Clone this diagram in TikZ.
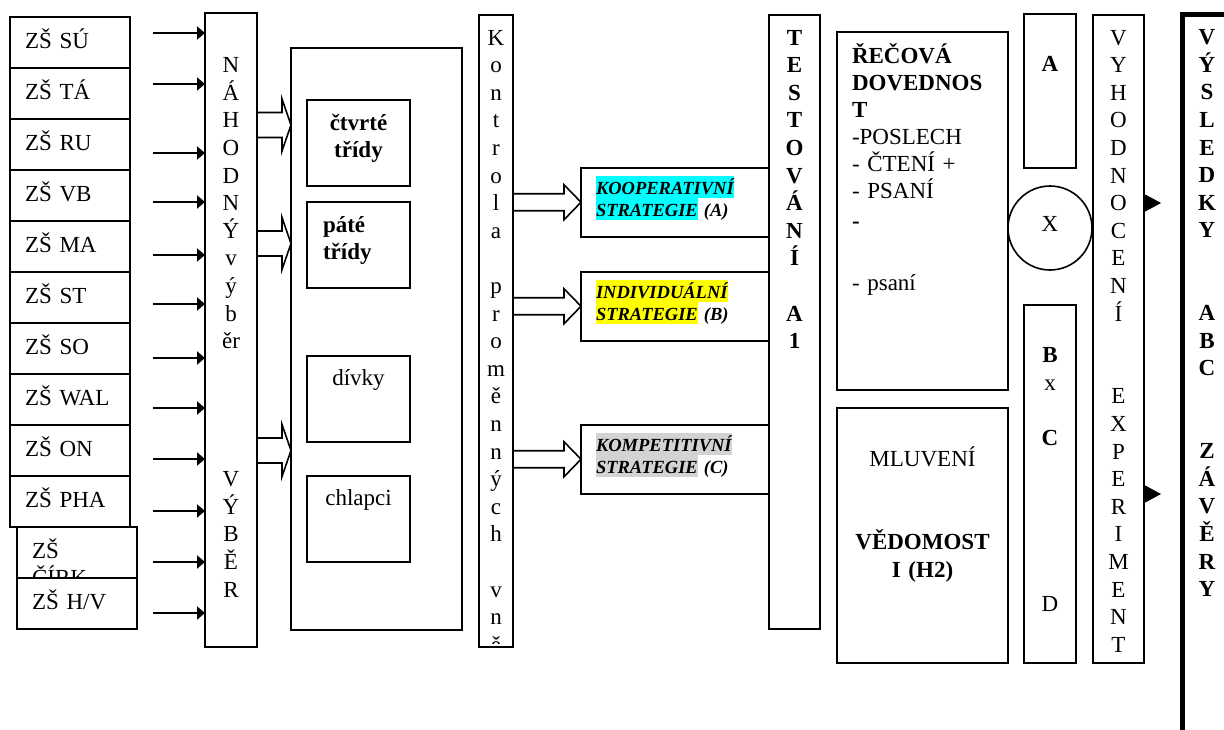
\documentclass[tikz,border=0pt]{standalone}
\usepackage{fontspec}
\setmainfont{Liberation Serif}
\usepackage{xcolor}
\usepackage{tikz}
\usetikzlibrary{positioning,arrows.meta,calc}
\definecolor{hlcyan}{HTML}{00FFFF}
\definecolor{hlyellow}{HTML}{FFFF00}
\definecolor{hlgray}{HTML}{D3D3D3}
\newcommand{\hlt}[2]{{\setlength{\fboxsep}{0pt}\colorbox{#1}{\rule[-3.8pt]{0pt}{22pt}#2}}}

\begin{document}
\begin{tikzpicture}[x=1pt,y=-1pt,
  font=\fontsize{23pt}{27.6pt}\selectfont,
  box/.style={draw,line width=2pt,fill=white,anchor=north west,inner xsep=15pt,inner ysep=0pt,outer sep=0pt,text height=31pt,align=left},
  col/.style={box,inner xsep=0pt,text height=30pt,align=center},
  school/.style={box,text width=90pt,text depth=20pt},
  frame/.style={draw,line width=2pt,anchor=north west,inner sep=0pt,outer sep=0pt},
  bf/.style={execute at begin node=\bfseries},
  strat/.style={box,text width=158pt,text height=26pt,text depth=42.5pt,font=\fontsize{18.5pt}{22pt}\selectfont\bfseries\itshape},
  arr/.style={-{Triangle[length=8pt,width=13pt]},line width=2.6pt},
  tri/.style={-{Triangle[length=16pt,width=17pt]},line width=1pt},
  fat/.style n args={3}{line width=1.6pt,to path={
    ($(\tikztostart)+(0,-#1)$) -- ($(\tikztostart -| \tikztotarget)+(-#3,-#1)$)
    -- ($(\tikztostart -| \tikztotarget)+(-#3,-#2)$) -- (\tikztostart -| \tikztotarget)
    -- ($(\tikztostart -| \tikztotarget)+(-#3,#2)$) -- ($(\tikztostart -| \tikztotarget)+(-#3,#1)$)
    -- ($(\tikztostart)+(0,#1)$)}}]
  \useasboundingbox (0,0) rectangle (1224,729);
  \clip (0,0) rectangle (1224,729);

  % schools
  \node[school] (su) at (10,17) {ZŠ SÚ};
  \node[school,below=0pt of su] (ta) {ZŠ TÁ};
  \node[school,below=0pt of ta] (ru) {ZŠ RU};
  \node[school,below=0pt of ru] (vb) {ZŠ VB};
  \node[school,below=0pt of vb] (ma) {ZŠ MA};
  \node[school,below=0pt of ma] (st) {ZŠ ST};
  \node[school,below=0pt of st] (so) {ZŠ SO};
  \node[school,below=0pt of so] (wal) {ZŠ WAL};
  \node[school,below=0pt of wal] (on) {ZŠ ON};
  \node[school,below=0pt of on] (pha) {ZŠ PHA};
  \node[school,below=0pt of pha,xshift=7pt] (cirk) {ZŠ\\ČÍRK};
  \node[school,below=0pt of cirk] (hv) {ZŠ H/V};

  \node[col,text width=52pt,text height=32pt,text depth=602pt] (nah) at (205,13)
    {\mbox{}\\N\\Á\\H\\O\\D\\N\\Ý\\v\\ý\\b\\ěr\\\mbox{}\\\mbox{}\\\mbox{}\\\mbox{}\\V\\Ý\\B\\Ě\\R};

  % classes
  \node[frame,minimum width=171pt,minimum height=582pt] (grp) at (291,48) {};
  \node[box,bf,text width=73pt,text height=30pt,text depth=56pt,align=center] (fourth) at (307,100) {čtvrté\\třídy};
  \node[box,bf,text width=71pt,inner xsep=16pt,text height=30pt,text depth=56pt] (fifth) at (307,202) {páté\\třídy};
  \node[box,text width=73pt,text height=29pt,text depth=57pt,align=center] (girls) at (307,356) {dívky};
  \node[box,text width=73pt,text height=29pt,text depth=57pt,align=center] (boys) at (307,476) {chlapci};

  \begin{scope}
    \clip (470,0) rectangle (530,643.5);
    \node[col,text width=34pt,text depth=602pt] (kontrola) at (479,15)
      {K\\o\\n\\t\\r\\o\\l\\a\\\mbox{}\\p\\r\\o\\m\\ě\\n\\n\\ý\\c\\h\\\mbox{}\\v\\n\\ě};
  \end{scope}
  \draw[line width=2pt] (kontrola.south west) rectangle (kontrola.north east);

  % strategies
  \node[strat] (coop) at (581,168) {\hlt{hlcyan}{KOOPERATIVNÍ}\\\hlt{hlcyan}{STRATEGIE} (A)};
  \node[strat] (indiv) at (581,272) {\hlt{hlyellow}{INDIVIDUÁLNÍ}\\\hlt{hlyellow}{STRATEGIE} (B)};
  \node[strat] (comp) at (581,425) {\hlt{hlgray}{KOMPETITIVNÍ}\\\hlt{hlgray}{STRATEGIE} (C)};

  \node[col,bf,text width=51pt,text depth=584pt] (test) at (769,15) {T\\E\\S\\T\\O\\V\\Á\\N\\Í\\\mbox{}\\A\\1};

  % skills
  \node[box,text width=141pt,text depth=327pt,font=\fontsize{23pt}{27pt}\selectfont] (skill) at (837,32)
    {\textbf{ŘEČOVÁ}\\\textbf{DOVEDNOS}\\\textbf{T}\\-POSLECH\\- ČTENÍ +\\- PSANÍ\\[3.7pt]\textbf{-}\\[3.7pt]\mbox{}\\[3.7pt]- psaní};
  \node[box,text width=141pt,text depth=224pt,align=center] (speak) at (837,408)
    {\mbox{}\\MLUVENÍ\\\mbox{}\\\mbox{}\\\textbf{VĚDOMOST}\\\textbf{I (H2)}};

  \node[col,bf,text width=52pt,text depth=124pt] (grpA) at (1024,14) {\mbox{}\\A};
  \node[draw,circle,line width=1.6pt,minimum size=84pt,inner sep=0pt] (cross) at (1050,228) {\raisebox{8pt}{X}};
  \node[col,text width=52pt,text depth=328pt] (grpBCD) at (1024,305)
    {\mbox{}\\\textbf{B}\\x\\\mbox{}\\\textbf{C}\\\mbox{}\\\mbox{}\\\mbox{}\\\mbox{}\\\mbox{}\\D};

  \node[col,text width=51pt,text depth=618pt] (eval) at (1093,15)
    {V\\Y\\H\\O\\D\\N\\O\\C\\E\\N\\Í\\\mbox{}\\\mbox{}\\E\\X\\P\\E\\R\\I\\M\\E\\N\\T};
  \node[col,bf,line width=5pt,text width=50pt,text height=30.6pt,text depth=800pt] (res) at (1182,14)
    {V\\Ý\\S\\L\\E\\D\\K\\Y\\\mbox{}\\\mbox{}\\A\\B\\C\\\mbox{}\\\mbox{}\\Z\\Á\\V\\Ě\\R\\Y};

  \coordinate (r1) at (1161,203);
  \coordinate (r2) at (1161,494);

  \draw[arr] ($(nah.west |- su.east)+(-52,-9.5)$) -- ++(52,0);
  \draw[arr] ($(nah.west |- ta.east)+(-52,-9.5)$) -- ++(52,0);
  \draw[arr] ($(nah.west |- ru.east)+(-52,8.5)$) -- ++(52,0);
  \draw[arr] ($(nah.west |- vb.east)+(-52,6.5)$) -- ++(52,0);
  \draw[arr] ($(nah.west |- ma.east)+(-52,8.5)$) -- ++(52,0);
  \draw[arr] ($(nah.west |- st.east)+(-52,6.5)$) -- ++(52,0);
  \draw[arr] ($(nah.west |- so.east)+(-52,9.5)$) -- ++(52,0);
  \draw[arr] ($(nah.west |- wal.east)+(-52,8.5)$) -- ++(52,0);
  \draw[arr] ($(nah.west |- on.east)+(-52,8.5)$) -- ++(52,0);
  \draw[arr] ($(nah.west |- pha.east)+(-52,9.5)$) -- ++(52,0);
  \draw[arr] ($(nah.west |- cirk.east)+(-52,9.5)$) -- ++(52,0);
  \draw[arr] ($(nah.west |- hv.east)+(-52,9.5)$) -- ++(52,0);

  \draw[fat={12.5}{26}{9}] (nah.east |- 0,125) to (grp.west);
  \draw[fat={12.5}{26}{9}] (nah.east |- 0,243.5) to (grp.west);
  \draw[fat={12.5}{26}{9}] (nah.east |- 0,450.5) to (grp.west);
  \draw[fat={8.5}{17.5}{17}] (kontrola.east |- coop.west) to (coop.west);
  \draw[fat={8.5}{17.5}{17}] (kontrola.east |- indiv.west) to (indiv.west);
  \draw[fat={8.5}{17.5}{17}] (kontrola.east |- comp.west) to (comp.west);
  \draw[tri] (eval.east |- r1) -- (r1);
  \draw[tri] (eval.east |- r2) -- (r2);
\end{tikzpicture}
\end{document}
